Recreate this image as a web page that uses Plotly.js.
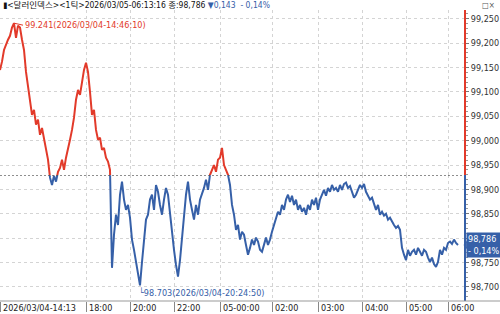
<!DOCTYPE html>
<html>
<head>
<meta charset="utf-8">
<script src="https://cdn.plot.ly/plotly-3.0.1.min.js"></script>
<style>html,body{margin:0;padding:0;background:#fff;}#chart{width:500px;height:314px;}</style>
</head>
<body>
<div id="chart"></div>
<script>
// Tick-by-tick prices (one value per ~2 px of the time axis)
const prices = [
 99.145,99.162,99.186,99.199,99.207,99.215,99.232,99.241,99.211,99.236,
 99.232,99.207,99.186,99.141,99.108,99.084,99.053,99.063,99.033,99.043,
 99.012,99.026,99.002,98.981,98.961,98.924,98.909,98.928,98.916,98.936,
 98.944,98.961,98.940,98.965,98.981,99.002,99.022,99.047,99.084,99.104,
 99.094,99.125,99.145,99.160,99.141,99.100,99.053,99.063,99.022,99.002,
 99.006,98.981,98.985,98.965,98.957,98.940,98.739,98.807,98.848,98.827,
 98.889,98.916,98.879,98.858,98.868,98.842,98.797,98.776,98.751,98.725,
 98.703,98.751,98.797,98.838,98.848,98.879,98.889,98.858,98.909,98.895,
 98.868,98.848,98.879,98.903,98.889,98.848,98.817,98.776,98.745,98.721,
 98.755,98.797,98.848,98.889,98.916,98.879,98.858,98.838,98.868,98.848,
 98.879,98.889,98.903,98.920,98.899,98.930,98.940,98.950,98.936,98.961,
 98.965,98.985,98.950,98.940,98.930,98.909,98.868,98.848,98.817,98.827,
 98.797,98.813,98.807,98.786,98.766,98.780,98.797,98.786,98.801,98.793,
 98.776,98.772,98.788,98.801,98.786,98.797,98.813,98.827,98.838,98.854,
 98.848,98.868,98.858,98.879,98.889,98.874,98.887,98.868,98.879,98.858,
 98.868,98.854,98.862,98.848,98.868,98.858,98.879,98.868,98.883,98.858,
 98.879,98.889,98.899,98.887,98.903,98.895,98.909,98.899,98.903,98.895,
 98.909,98.899,98.911,98.914,98.903,98.907,98.895,98.883,98.889,98.899,
 98.909,98.903,98.911,98.895,98.887,98.879,98.883,98.868,98.858,98.868,
 98.848,98.854,98.846,98.850,98.838,98.842,98.833,98.827,98.821,98.825,
 98.817,98.780,98.766,98.755,98.776,98.764,98.772,98.776,98.766,98.780,
 98.772,98.764,98.776,98.772,98.760,98.751,98.760,98.747,98.741,98.751,
 98.776,98.766,98.780,98.776,98.790,98.793,98.788,98.797,98.790,98.786
];
const prevClose = 98.929;
const maxTime = '2026/03/04-14:46:10';
const minTime = '2026/03/04-20:24:50';
const lastTime = '2026/03/05-06:13:16';
const tickIdx = [0, 43, 65, 87, 110, 136, 159, 181, 203, 224];
const tickLabels = ['2026/03/04-14:13','18:00','20:00','22:00','05-00:00','02:00','03:00','04:00','05:00','06:00'];
const yMin = 98.671, yMax = 99.268;

const RED = '#e23a2a', BLUE = '#3660a8';
const FONT = "'Liberation Sans Narrow', 'DejaVu Sans Condensed', 'Noto Sans CJK KR', sans-serif";
const idx = prices.map((_, i) => i);
const last = prices[prices.length - 1];
const maxV = Math.max(...prices), minV = Math.min(...prices);
const maxI = prices.indexOf(maxV), minI = prices.indexOf(minV);
const chg = last - prevClose;
const pct = chg / prevClose * 100;
const cm = (v, d) => v.toFixed(d).replace('.', ',');
const f = (prevClose - yMin) / (yMax - yMin);

const traces = [
  {x: idx, y: prices, type: 'scatter', mode: 'lines', xaxis: 'x', yaxis: 'y',
   line: {color: RED, width: 2}, hoverinfo: 'skip'},
  {x: idx, y: prices, type: 'scatter', mode: 'lines', xaxis: 'x', yaxis: 'y2',
   line: {color: BLUE, width: 2}, hoverinfo: 'skip'}
];

const yCommon = {
  side: 'right', anchor: 'x', tickmode: 'linear', tick0: 98.7, dtick: 0.05,
  tickformat: '.3f', ticks: 'outside', ticklen: 3, tickcolor: '#777',
  showgrid: true, gridcolor: '#d4d4d4', griddash: 'dot', gridwidth: 1,
  zeroline: false, showline: true, linewidth: 2,
  tickfont: {family: FONT, size: 9, color: '#333'},
  minor: {dtick: 0.01, ticks: 'outside', ticklen: 2, tickcolor: '#999', showgrid: false}
};

const annotations = [
  {xref: 'paper', yref: 'paper', x: 0, y: 1, yshift: 5, xshift: 1, xanchor: 'left', yanchor: 'middle',
   showarrow: false, font: {family: FONT, size: 8.5, color: '#111'},
   text: '▮&lt;달러인덱스&gt;&lt;1틱&gt;' + lastTime + ' 종:' + cm(last, 3) + ' <span style="color:' + BLUE + '">' +
         (chg < 0 ? '▼' : '▲') + cm(Math.abs(chg), 3) + '  ' + (pct < 0 ? '- ' : '') + cm(Math.abs(pct), 2) + '%</span>'},
  {xref: 'paper', yref: 'paper', x: 1, y: 1, xshift: 33, yshift: 5, xanchor: 'right', yanchor: 'middle',
   showarrow: false, font: {family: FONT, size: 8, color: '#555'}, text: '□×'},
  {xref: 'x', yref: 'y', x: maxI, y: maxV, ax: 9, ay: 2, xanchor: 'left', yanchor: 'middle',
   showarrow: true, arrowhead: 0, arrowwidth: 1, arrowcolor: RED, standoff: 0, startstandoff: 0,
   font: {family: FONT, size: 9, color: RED}, text: maxV.toFixed(3) + '(' + maxTime + ')'},
  {xref: 'x', yref: 'y2', x: minI, y: minV, xanchor: 'left', yanchor: 'top', xshift: -3, yshift: 0,
   showarrow: false, font: {family: FONT, size: 9, color: BLUE}, text: '└' + minV.toFixed(3) + '(' + minTime + ')'},
  {xref: 'paper', yref: 'y2', x: 1, y: last, xshift: 2, xanchor: 'left', yanchor: 'middle',
   showarrow: false, bgcolor: BLUE, borderpad: 1, align: 'left',
   font: {family: FONT, size: 9, color: '#fff'},
   text: cm(last, 3) + '<br>' + (pct < 0 ? '- ' : '') + cm(Math.abs(pct), 2) + '%'}
];
tickIdx.forEach((t, k) => annotations.push({
  xref: 'x', yref: 'paper', x: t, y: 0, xshift: 1, yshift: 0, xanchor: 'left', yanchor: 'top',
  showarrow: false, font: {family: FONT, size: 9, color: '#222'}, text: tickLabels[k]
}));

const layout = {
  width: 500, height: 314,
  margin: {l: 0, r: 36, t: 10, b: 13, pad: 0},
  paper_bgcolor: '#fff', plot_bgcolor: '#fff',
  separators: ',.',
  showlegend: false,
  xaxis: {range: [0, 232], anchor: 'y2', tickmode: 'array', tickvals: tickIdx, ticktext: tickLabels,
          showticklabels: false, ticks: 'outside', ticklen: 10, tickcolor: '#888',
          showgrid: true, gridcolor: '#d4d4d4', griddash: 'dot', zeroline: false,
          showline: false},
  yaxis: Object.assign({}, yCommon, {domain: [f, 1], range: [prevClose, yMax], linecolor: RED}),
  yaxis2: Object.assign({}, yCommon, {domain: [0, f], range: [yMin, prevClose], linecolor: BLUE}),
  shapes: [
    {type: 'line', xref: 'paper', yref: 'y2', x0: 0, x1: 1, y0: prevClose, y1: prevClose,
     line: {color: '#333', width: 1, dash: '2px,2px'}},
    {type: 'line', xref: 'paper', yref: 'paper', x0: 0, x1: 1.08, y0: 0, y1: 0,
     line: {color: '#999', width: 1}},
    {type: 'path', xref: 'paper', yref: 'y2',
     path: 'M 0.999,' + last + ' L 1.006,' + (last + 0.009) + ' L 1.006,' + (last - 0.009) + ' Z',
     fillcolor: BLUE, line: {width: 0}}
  ],
  annotations: annotations
};

Plotly.newPlot('chart', traces, layout, {displayModeBar: false, staticPlot: true});
</script>
</body>
</html>
